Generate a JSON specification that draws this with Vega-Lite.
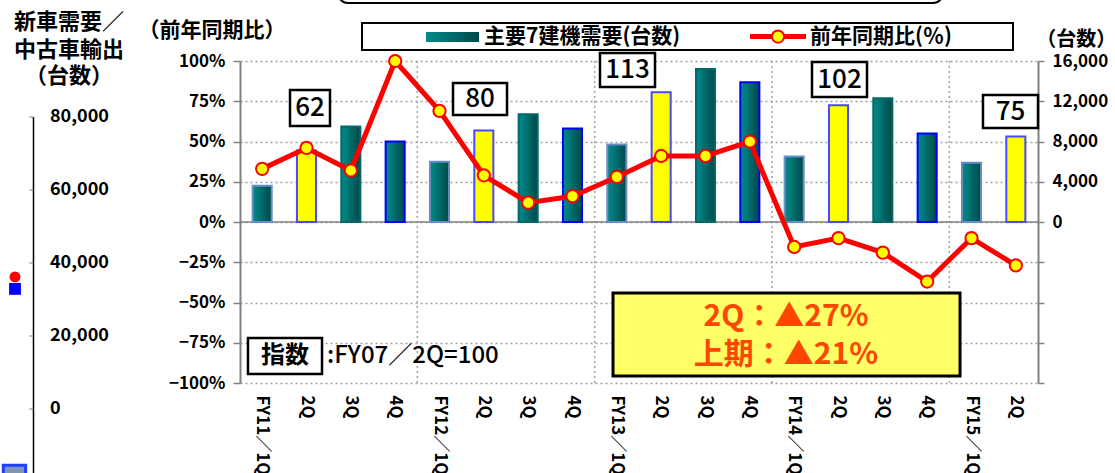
{
  "$schema": "https://vega.github.io/schema/vega-lite/v6.json",
  "width": 798,
  "height": 322,
  "autosize": {"type": "none"},
  "padding": {"left": 240, "top": 61, "right": 77, "bottom": 90},
  "background": "white",
  "config": {"font": "Noto Sans CJK JP", "view": {"stroke": null}},
  "layer": [
    {
      "layer": [
        {
          "data": {"values": [{"gx": 4, "gy0": -1, "gy1": 1}, {"gx": 8, "gy0": -1, "gy1": 1}, {"gx": 12, "gy0": -1, "gy1": 1}, {"gx": 16, "gy0": -1, "gy1": 1}]},
          "mark": {"type": "rule", "color": "#a0a0a0", "strokeWidth": 1.5, "strokeDash": [2, 3]},
          "encoding": {
            "x": {"field": "gx", "type": "quantitative", "scale": {"domain": [0, 18], "nice": false, "zero": false}, "axis": null},
            "y": {"field": "gy0", "type": "quantitative", "scale": {"domain": [-1, 1], "nice": false}, "axis": null},
            "y2": {"field": "gy1"}
          }
        },
        {
          "data": {"values": [{"gx": 0, "gx2": 18, "gy0": 0}]},
          "mark": {"type": "rule", "color": "#808080", "strokeWidth": 1.5},
          "encoding": {
            "x": {"field": "gx", "type": "quantitative", "axis": null},
            "x2": {"field": "gx2"},
            "y": {"field": "gy0", "type": "quantitative", "axis": null}
          }
        }
      ]
    },
    {
      "data": {"values": [
        {"p": "FY11／1Q", "q": "1Q", "units": 3600, "yoy": 0.33},
        {"p": "FY11／2Q", "q": "2Q", "units": 7100, "yoy": 0.46},
        {"p": "FY11／3Q", "q": "3Q", "units": 9500, "yoy": 0.32},
        {"p": "FY11／4Q", "q": "4Q", "units": 8000, "yoy": 1.0},
        {"p": "FY12／1Q", "q": "1Q", "units": 6000, "yoy": 0.69},
        {"p": "FY12／2Q", "q": "2Q", "units": 9100, "yoy": 0.29},
        {"p": "FY12／3Q", "q": "3Q", "units": 10700, "yoy": 0.12},
        {"p": "FY12／4Q", "q": "4Q", "units": 9300, "yoy": 0.16},
        {"p": "FY13／1Q", "q": "1Q", "units": 7700, "yoy": 0.28},
        {"p": "FY13／2Q", "q": "2Q", "units": 12900, "yoy": 0.41},
        {"p": "FY13／3Q", "q": "3Q", "units": 15200, "yoy": 0.41},
        {"p": "FY13／4Q", "q": "4Q", "units": 13900, "yoy": 0.50},
        {"p": "FY14／1Q", "q": "1Q", "units": 6500, "yoy": -0.155},
        {"p": "FY14／2Q", "q": "2Q", "units": 11600, "yoy": -0.10},
        {"p": "FY14／3Q", "q": "3Q", "units": 12300, "yoy": -0.19},
        {"p": "FY14／4Q", "q": "4Q", "units": 8800, "yoy": -0.37},
        {"p": "FY15／1Q", "q": "1Q", "units": 5900, "yoy": -0.10},
        {"p": "FY15／2Q", "q": "2Q", "units": 8500, "yoy": -0.27}
      ]},
      "layer": [
        {
          "mark": {"type": "bar", "strokeWidth": 2},
          "encoding": {
            "x": {
              "field": "p", "type": "nominal", "sort": null,
              "scale": {"type": "band", "paddingInner": 0.57, "paddingOuter": 0.285},
              "axis": {
                "orient": "bottom", "title": null, "domain": false, "ticks": false,
                "labelAngle": 90, "labelAlign": "left", "labelBaseline": "middle",
                "labelPadding": 12, "labelFontSize": 17, "labelFontWeight": "bold", "labelColor": "black",
                "labelExpr": "slice(datum.label, -2) === '1Q' ? datum.label : slice(datum.label, -2)"
              }
            },
            "y": {
              "field": "units", "type": "quantitative",
              "scale": {"domain": [-16000, 16000], "nice": false, "zero": false},
              "axis": {
                "orient": "right", "title": null, "grid": false,
                "values": [-16000, -12000, -8000, -4000, 0, 4000, 8000, 12000, 16000],
                "labelExpr": "datum.value >= 0 ? format(datum.value, ',') : ''",
                "domainColor": "#808080", "domainWidth": 2, "tickColor": "#808080",
                "tickSize": 6, "tickWidth": 1.5, "labelFontSize": 17, "labelFontWeight": "bold", "labelColor": "black", "labelPadding": 8
              }
            },
            "fill": {
              "condition": {"test": "datum.q === '2Q'", "value": "#ffff00"},
              "value": {"gradient": "linear", "x1": 0, "y1": 0, "x2": 1, "y2": 0, "stops": [{"offset": 0, "color": "#008c8c"}, {"offset": 1, "color": "#004848"}]}
            },
            "stroke": {
              "field": "q", "type": "nominal",
              "scale": {"domain": ["1Q", "2Q", "3Q", "4Q"], "range": ["#6a8cc8", "#4848ff", "#006a6a", "#0000ff"]},
              "legend": null
            }
          }
        },
        {
          "mark": {"type": "line", "color": "#ff0000", "strokeWidth": 5},
          "encoding": {
            "x": {"field": "p", "type": "nominal", "sort": null, "bandPosition": 0.5},
            "y": {
              "field": "yoy", "type": "quantitative",
              "scale": {"domain": [-1, 1], "nice": false},
              "axis": {
                "orient": "left", "title": null,
                "values": [-1, -0.75, -0.5, -0.25, 0, 0.25, 0.5, 0.75, 1],
                "format": ".0%", "grid": true, "gridColor": "#a0a0a0", "gridDash": [2, 3], "gridWidth": 1.5,
                "domainColor": "#808080", "domainWidth": 2, "tickColor": "#808080",
                "tickSize": 7, "tickWidth": 1.5, "labelFontSize": 17, "labelFontWeight": "bold", "labelColor": "black", "labelPadding": 8
              }
            }
          }
        },
        {
          "mark": {"type": "point", "shape": "circle", "filled": true, "fill": "#ffff00", "stroke": "#ff0000", "strokeWidth": 2, "size": 150, "opacity": 1},
          "encoding": {
            "x": {"field": "p", "type": "nominal", "sort": null, "bandPosition": 0.5},
            "y": {"field": "yoy", "type": "quantitative", "scale": {"domain": [-1, 1], "nice": false}, "axis": null}
          }
        }
      ],
      "resolve": {"scale": {"y": "independent"}}
    },
    {
      "layer": [
        {
          "data": {"values": [{"x0": 2.211, "x1": 15.857, "y0": 1.36, "y1": 1.52}]},
          "mark": {"type": "rect", "filled": false, "stroke": "black", "strokeWidth": 2, "cornerRadius": 10},
          "encoding": {
            "x": {"field": "x0", "type": "quantitative", "scale": {"domain": [0, 18], "nice": false, "zero": false}, "axis": null},
            "x2": {"field": "x1"},
            "y": {"field": "y0", "type": "quantitative", "scale": {"domain": [-1, 1], "nice": false}, "axis": null},
            "y2": {"field": "y1"}
          }
        },
        {
          "data": {"values": [{"x0": 2.752, "x1": 17.436, "y0": 1.068, "y1": 1.236}]},
          "mark": {"type": "rect", "fill": "white", "stroke": "black", "strokeWidth": 2},
          "encoding": {
            "x": {"field": "x0", "type": "quantitative", "axis": null}, "x2": {"field": "x1"},
            "y": {"field": "y0", "type": "quantitative", "axis": null}, "y2": {"field": "y1"}
          }
        },
        {
          "data": {"values": [{"x0": 4.195, "x1": 5.391, "y0": 1.118, "y1": 1.18}]},
          "mark": {"type": "rect", "fill": {"gradient": "linear", "x1": 0, "y1": 0, "x2": 1, "y2": 0, "stops": [{"offset": 0, "color": "#008c8c"}, {"offset": 1, "color": "#004848"}]}},
          "encoding": {
            "x": {"field": "x0", "type": "quantitative", "axis": null}, "x2": {"field": "x1"},
            "y": {"field": "y0", "type": "quantitative", "axis": null}, "y2": {"field": "y1"}
          }
        },
        {
          "data": {"values": [{"x0": 11.504, "x1": 12.767, "y0": 1.152}]},
          "mark": {"type": "rule", "color": "#ff0000", "strokeWidth": 5},
          "encoding": {
            "x": {"field": "x0", "type": "quantitative", "axis": null}, "x2": {"field": "x1"},
            "y": {"field": "y0", "type": "quantitative", "axis": null}
          }
        },
        {
          "data": {"values": [{"x0": 12.135, "y0": 1.152}]},
          "mark": {"type": "point", "shape": "circle", "filled": true, "fill": "#ffff00", "stroke": "#ff0000", "strokeWidth": 2, "size": 150, "opacity": 1},
          "encoding": {
            "x": {"field": "x0", "type": "quantitative", "axis": null},
            "y": {"field": "y0", "type": "quantitative", "axis": null}
          }
        },
        {
          "data": {"values": [{"tx": 5.504, "ty": 1.152, "label": "主要7建機需要(台数)"}, {"tx": 12.857, "ty": 1.152, "label": "前年同期比(％)"}]},
          "mark": {"type": "text", "align": "left", "baseline": "middle", "fontSize": 21, "fontWeight": "bold", "color": "black"},
          "encoding": {
            "x": {"field": "tx", "type": "quantitative", "axis": null},
            "y": {"field": "ty", "type": "quantitative", "axis": null},
            "text": {"field": "label"}
          }
        },
        {
          "data": {"values": [
            {"x0": 1.128, "x1": 2.03, "y0": 0.596, "y1": 0.82},
            {"x0": 4.805, "x1": 6.023, "y0": 0.665, "y1": 0.863},
            {"x0": 8.12, "x1": 9.361, "y0": 0.839, "y1": 1.05},
            {"x0": 12.902, "x1": 14.143, "y0": 0.776, "y1": 0.994},
            {"x0": 16.759, "x1": 18.0, "y0": 0.584, "y1": 0.789},
            {"x0": 0.18, "x1": 1.85, "y0": -0.944, "y1": -0.72}
          ]},
          "mark": {"type": "rect", "fill": "white", "stroke": "black", "strokeWidth": 2.5},
          "encoding": {
            "x": {"field": "x0", "type": "quantitative", "axis": null}, "x2": {"field": "x1"},
            "y": {"field": "y0", "type": "quantitative", "axis": null}, "y2": {"field": "y1"}
          }
        },
        {
          "data": {"values": [
            {"tx": 1.579, "ty": 0.708, "label": "62"},
            {"tx": 5.414, "ty": 0.764, "label": "80"},
            {"tx": 8.741, "ty": 0.944, "label": "113"},
            {"tx": 13.523, "ty": 0.885, "label": "102"},
            {"tx": 17.38, "ty": 0.686, "label": "75"}
          ]},
          "mark": {"type": "text", "align": "center", "baseline": "middle", "fontSize": 26, "fontWeight": 500, "color": "black"},
          "encoding": {
            "x": {"field": "tx", "type": "quantitative", "axis": null},
            "y": {"field": "ty", "type": "quantitative", "axis": null},
            "text": {"field": "label"}
          }
        },
        {
          "data": {"values": [{"tx": 1.015, "ty": -0.832, "label": "指数"}]},
          "mark": {"type": "text", "align": "center", "baseline": "middle", "fontSize": 24, "fontWeight": "bold", "color": "black"},
          "encoding": {
            "x": {"field": "tx", "type": "quantitative", "axis": null},
            "y": {"field": "ty", "type": "quantitative", "axis": null},
            "text": {"field": "label"}
          }
        },
        {
          "data": {"values": [{"tx": 1.962, "ty": -0.832, "label": ":FY07／2Q=100"}]},
          "mark": {"type": "text", "align": "left", "baseline": "middle", "fontSize": 24, "fontWeight": 500, "color": "black"},
          "encoding": {
            "x": {"field": "tx", "type": "quantitative", "axis": null},
            "y": {"field": "ty", "type": "quantitative", "axis": null},
            "text": {"field": "label"}
          }
        },
        {
          "data": {"values": [{"x0": 8.414, "x1": 16.241, "y0": -0.957, "y1": -0.441}]},
          "mark": {"type": "rect", "fill": "#ffff66", "stroke": "black", "strokeWidth": 3},
          "encoding": {
            "x": {"field": "x0", "type": "quantitative", "axis": null}, "x2": {"field": "x1"},
            "y": {"field": "y0", "type": "quantitative", "axis": null}, "y2": {"field": "y1"}
          }
        },
        {
          "data": {"values": [{"tx": 12.316, "ty": -0.593, "label": "2Q：▲27%"}, {"tx": 12.316, "ty": -0.826, "label": "上期：▲21%"}]},
          "mark": {"type": "text", "align": "center", "baseline": "middle", "fontSize": 30, "fontWeight": "bold", "color": "#ff4500"},
          "encoding": {
            "x": {"field": "tx", "type": "quantitative", "axis": null},
            "y": {"field": "ty", "type": "quantitative", "axis": null},
            "text": {"field": "label"}
          }
        },
        {
          "data": {"values": [
            {"tx": -3.857, "ty": 1.242, "label": "新車需要／"},
            {"tx": -3.857, "ty": 1.068, "label": "中古車輸出"},
            {"tx": -3.857, "ty": 0.907, "label": "（台数）"}
          ]},
          "mark": {"type": "text", "align": "center", "baseline": "middle", "fontSize": 22, "fontWeight": "bold", "color": "black"},
          "encoding": {
            "x": {"field": "tx", "type": "quantitative", "axis": null},
            "y": {"field": "ty", "type": "quantitative", "axis": null},
            "text": {"field": "label"}
          }
        },
        {
          "data": {"values": [{"tx": -0.632, "ty": 1.186, "label": "（前年同期比）"}]},
          "mark": {"type": "text", "align": "center", "baseline": "middle", "fontSize": 21, "fontWeight": "bold", "color": "black"},
          "encoding": {
            "x": {"field": "tx", "type": "quantitative", "axis": null},
            "y": {"field": "ty", "type": "quantitative", "axis": null},
            "text": {"field": "label"}
          }
        },
        {
          "data": {"values": [{"tx": 17.96, "ty": 1.13, "label": "（台数）"}]},
          "mark": {"type": "text", "align": "left", "baseline": "middle", "fontSize": 20, "fontWeight": "bold", "color": "black"},
          "encoding": {
            "x": {"field": "tx", "type": "quantitative", "axis": null},
            "y": {"field": "ty", "type": "quantitative", "axis": null},
            "text": {"field": "label"}
          }
        }
      ]
    },
    {
      "layer": [
        {
          "data": {"values": [{"mx": -5.087, "mv": -18500}]},
          "mark": {"type": "point", "shape": "square", "filled": true, "fill": "#7f96b8", "stroke": "#2040ff", "strokeWidth": 3, "size": 500, "opacity": 1},
          "encoding": {
            "x": {"field": "mx", "type": "quantitative", "scale": {"domain": [0, 18], "nice": false, "zero": false}, "axis": null},
            "y": {"field": "mv", "type": "quantitative", "scale": {"domain": [-20000, 80000], "range": [421, 56], "nice": false, "zero": false}, "axis": null}
          }
        },
        {
          "data": {"values": [{"v0": -20000, "v1": 80000}]},
          "mark": {"type": "rule", "color": "black", "strokeWidth": 1.5},
          "encoding": {
            "x": {"datum": -4.658, "type": "quantitative", "axis": null},
            "y": {"field": "v0", "type": "quantitative", "axis": null},
            "y2": {"field": "v1"}
          }
        },
        {
          "data": {"values": [{"v": 0}, {"v": 20000}, {"v": 40000}, {"v": 60000}, {"v": 80000}]},
          "layer": [
            {
              "mark": {"type": "tick", "orient": "horizontal", "color": "#808080", "size": 4, "thickness": 1.5},
              "encoding": {
                "x": {"datum": -4.703, "type": "quantitative", "axis": null},
                "y": {"field": "v", "type": "quantitative", "axis": null}
              }
            },
            {
              "mark": {"type": "text", "align": "left", "baseline": "middle", "fontSize": 18, "fontWeight": "bold", "color": "black"},
              "encoding": {
                "x": {"datum": -4.286, "type": "quantitative", "axis": null},
                "y": {"field": "v", "type": "quantitative", "axis": null},
                "text": {"field": "v", "type": "quantitative", "format": ","}
              }
            }
          ]
        },
        {
          "data": {"values": [{"mx": -5.075, "mv": 32900}]},
          "mark": {"type": "point", "shape": "square", "filled": true, "color": "#0000ff", "size": 140, "opacity": 1},
          "encoding": {
            "x": {"field": "mx", "type": "quantitative", "axis": null},
            "y": {"field": "mv", "type": "quantitative", "axis": null}
          }
        },
        {
          "data": {"values": [{"mx": -5.075, "mv": 36200}]},
          "mark": {"type": "point", "shape": "circle", "filled": true, "color": "#ff0000", "size": 120, "opacity": 1},
          "encoding": {
            "x": {"field": "mx", "type": "quantitative", "axis": null},
            "y": {"field": "mv", "type": "quantitative", "axis": null}
          }
        }
      ]
    }
  ],
  "resolve": {"scale": {"x": "independent", "y": "independent"}}
}
